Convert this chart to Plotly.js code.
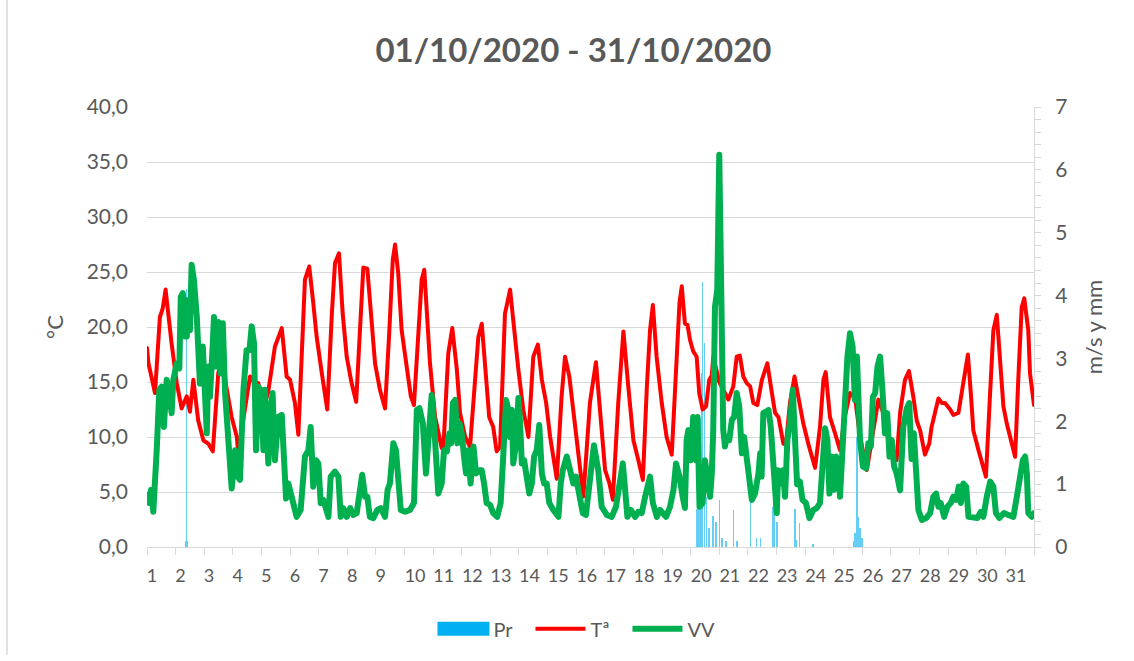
<!DOCTYPE html>
<html>
<head>
<meta charset="utf-8">
<script src="https://cdn.plot.ly/plotly-3.0.1.min.js"></script>
<style>
html,body{margin:0;padding:0;background:#fff;}
#chart{width:1134px;height:661px;}
.scatterlayer .js-line{stroke-linejoin:round;stroke-linecap:round;}
</style>
</head>
<body>
<div id="chart"></div>
<script>
// Day labels of the x axis
const days = [1,2,3,4,5,6,7,8,9,10,11,12,13,14,15,16,17,18,19,20,21,22,23,24,25,26,27,28,29,30,31];

// Temperature (°C): time in days since 01/10 00:00
const tempTime = [0,0.05,0.28,0.45,0.55,0.65,0.86,1.04,1.21,1.39,
1.50,1.62,1.79,1.97,2.14,2.30,2.49,2.61,2.79,2.96,
3.14,3.19,3.39,3.60,3.74,3.89,4.05,4.23,4.47,4.71,
4.88,5.00,5.17,5.29,5.52,5.67,5.81,5.93,6.11,6.30,
6.46,6.57,6.71,6.84,6.98,7.15,7.31,7.45,7.56,7.70,
7.85,7.97,8.14,8.32,8.47,8.59,8.67,8.78,8.90,9.05,
9.22,9.33,9.48,9.60,9.69,9.80,9.89,10.07,10.30,10.36,
10.53,10.67,10.83,10.94,11.12,11.29,11.46,11.58,11.70,11.81,
11.96,12.10,12.22,12.34,12.51,12.69,12.80,12.98,13.15,13.33,
13.50,13.66,13.80,13.95,14.09,14.32,14.49,14.61,14.76,14.90,
15.08,15.25,15.48,15.69,15.83,16.01,16.16,16.28,16.47,16.65,
16.82,17.00,17.17,17.33,17.47,17.58,17.68,17.81,17.99,18.16,
18.34,18.49,18.61,18.69,18.80,18.89,18.98,19.09,19.21,19.30,
19.42,19.54,19.65,19.74,19.79,20.00,20.21,20.32,20.49,20.61,
20.72,20.84,20.96,21.08,21.19,21.33,21.49,21.68,21.84,21.95,
22.07,22.24,22.33,22.47,22.63,22.76,22.94,23.11,23.35,23.52,
23.64,23.72,23.87,24.05,24.22,24.40,24.57,24.75,24.92,25.16,
25.34,25.56,25.76,25.97,26.20,26.32,26.49,26.63,26.78,26.90,
27.02,27.19,27.34,27.42,27.54,27.66,27.78,27.89,28.07,28.18,
28.36,28.48,28.53,28.69,28.80,28.88,29.06,29.23,29.32,29.46,
29.58,29.70,29.81,29.93,30.05,30.22,30.34,30.45,30.57,30.66,
30.80,30.86,31.00];
const tempValues = [18.1,16.7,14.0,20.9,21.7,23.4,18.5,14.9,12.6,13.7,
12.3,15.2,11.5,9.7,9.4,8.7,15.8,17.0,14.3,11.8,
10.0,8.5,12.0,15.5,15.0,14.9,12.5,14.0,18.2,19.9,
15.5,15.2,13.1,10.2,24.3,25.5,22.2,19.1,15.8,12.5,
21.2,25.8,26.7,21.2,17.3,14.9,13.2,20.3,25.4,25.3,
20.3,16.7,14.3,12.6,19.7,26.1,27.5,24.9,19.7,16.7,
13.7,12.9,19.7,24.3,25.2,21.2,16.7,11.8,9.0,9.1,
17.6,19.9,16.1,12.2,10.0,9.1,15.2,19.1,20.3,17.0,
11.8,10.9,8.7,9.1,21.2,23.4,20.3,16.1,12.5,10.0,
17.3,18.4,15.2,13.1,10.0,6.2,13.7,17.3,15.5,12.5,
8.8,4.6,13.1,16.8,12.5,7.0,5.8,4.3,13.1,19.6,
14.6,9.7,7.9,6.1,14.6,19.7,22.0,17.3,13.1,10.0,
8.4,16.1,22.2,23.7,20.3,20.2,18.8,17.8,17.3,14.0,
12.5,12.8,15.2,15.6,17.3,15.0,14.0,13.4,14.6,17.3,
17.4,15.5,14.9,14.6,13.1,12.9,15.2,16.7,14.0,12.2,
11.8,9.4,9.3,13.1,15.5,13.7,11.2,9.4,7.2,10.9,
15.2,15.9,11.8,10.3,8.8,12.0,14.0,13.5,10.0,7.0,
10.0,13.4,12.0,9.5,7.9,12.2,15.2,16.0,13.7,11.5,
10.6,8.4,9.4,10.9,12.2,13.5,13.1,13.1,12.5,12.0,
12.2,14.3,14.9,17.5,13.7,10.6,8.8,7.0,6.4,13.7,
19.7,21.1,17.6,12.8,11.2,9.4,8.2,15.2,21.8,22.6,
19.7,15.8,12.9];

// Wind speed VV (m/s)
const windTime = [0.00,0.08,0.14,0.22,0.34,0.43,0.51,0.59,0.69,0.78,
0.86,0.92,1.04,1.13,1.18,1.25,1.33,1.39,1.44,1.50,
1.56,1.64,1.74,1.85,1.95,2.03,2.09,2.14,2.20,2.30,
2.34,2.41,2.49,2.58,2.65,2.73,2.81,2.90,2.96,3.08,
3.16,3.25,3.37,3.48,3.58,3.66,3.74,3.81,3.89,3.97,
4.07,4.12,4.24,4.32,4.39,4.47,4.59,4.71,4.79,4.86,
4.94,5.08,5.23,5.37,5.52,5.64,5.72,5.81,5.91,5.99,
6.07,6.16,6.26,6.34,6.42,6.57,6.69,6.77,6.86,6.98,
7.10,7.21,7.33,7.44,7.52,7.62,7.70,7.79,7.91,8.05,
8.17,8.32,8.41,8.49,8.61,8.70,8.78,8.87,9.02,9.19,
9.33,9.43,9.52,9.64,9.75,9.85,9.95,10.03,10.13,10.18,
10.30,10.38,10.48,10.57,10.63,10.69,10.77,10.85,10.92,11.00,
11.08,11.15,11.23,11.31,11.41,11.50,11.61,11.70,11.78,11.87,
11.99,12.10,12.24,12.36,12.45,12.55,12.63,12.69,12.75,12.80,
12.90,12.98,13.04,13.10,13.18,13.27,13.36,13.45,13.53,13.62,
13.71,13.80,13.88,13.97,14.06,14.20,14.38,14.46,14.53,14.67,
14.79,14.90,14.99,15.11,15.23,15.34,15.48,15.62,15.77,15.89,
16.07,16.24,16.39,16.53,16.63,16.71,16.79,16.91,17.06,17.17,
17.29,17.41,17.49,17.58,17.68,17.82,17.93,18.02,18.14,18.28,
18.40,18.49,18.61,18.72,18.80,18.86,18.92,19.00,19.09,19.19,
19.24,19.31,19.42,19.50,19.58,19.68,19.74,19.79,19.85,19.93,
20.00,20.05,20.08,20.14,20.20,20.26,20.35,20.44,20.52,20.61,
20.70,20.79,20.87,20.96,21.05,21.14,21.25,21.37,21.43,21.48,
21.54,21.63,21.72,21.80,21.87,21.93,22.01,22.06,22.15,22.22,
22.30,22.38,22.47,22.57,22.65,22.72,22.82,22.91,23.03,23.15,
23.29,23.41,23.52,23.62,23.70,23.78,23.85,23.93,24.01,24.08,
24.16,24.22,24.32,24.40,24.48,24.57,24.66,24.74,24.81,24.86,
24.92,25.02,25.13,25.21,25.30,25.37,25.45,25.53,25.62,25.71,
25.79,25.87,25.95,26.03,26.11,26.20,26.32,26.43,26.55,26.64,
26.72,26.80,26.90,26.96,27.08,27.23,27.37,27.48,27.58,27.66,
27.74,27.86,27.97,28.09,28.18,28.28,28.37,28.44,28.53,28.63,
28.71,28.86,29.02,29.14,29.23,29.35,29.47,29.58,29.67,29.79,
29.95,30.10,30.28,30.40,30.51,30.61,30.69,30.75,30.80,30.92,
31.00];
const windValues = [0.83,0.70,0.91,0.56,1.54,2.50,2.55,1.91,2.66,2.45,
2.13,2.66,2.92,2.84,3.98,4.04,3.35,3.35,3.93,3.45,
4.49,4.25,3.66,2.60,3.19,2.60,1.81,2.87,2.39,3.24,
3.66,2.87,3.58,2.76,3.56,2.45,1.97,1.12,0.93,1.54,
1.12,1.07,2.50,3.13,3.13,3.51,3.24,1.54,2.55,2.50,
1.54,2.50,1.33,2.18,2.45,1.38,2.07,2.10,1.54,0.77,
1.01,0.70,0.48,0.59,1.44,1.54,1.91,0.96,1.38,1.33,
0.70,0.75,0.59,0.48,1.12,1.20,1.12,0.48,0.62,0.48,
0.62,0.51,0.54,0.85,1.15,0.80,0.80,0.48,0.46,0.59,
0.62,0.48,0.91,1.01,1.65,1.54,0.91,0.59,0.56,0.59,
0.70,2.18,2.21,1.97,1.17,1.86,2.42,1.97,1.22,0.85,
1.01,1.54,1.52,1.81,1.65,2.29,2.34,1.65,1.97,1.81,
1.44,1.17,1.54,1.01,1.60,1.17,1.22,1.22,1.01,0.70,
0.67,0.54,0.48,0.70,1.44,2.34,2.18,1.75,2.18,1.33,
1.65,2.37,1.97,1.33,1.38,1.01,0.85,1.01,1.44,1.54,
1.94,1.17,1.01,1.01,0.70,0.59,0.48,1.01,1.22,1.44,
1.17,1.01,1.12,0.75,0.54,0.51,1.01,1.62,1.22,0.64,
0.51,0.48,0.64,1.01,1.33,0.91,0.48,0.59,0.48,0.56,
0.54,0.80,0.96,1.12,0.70,0.48,0.59,0.54,0.48,0.64,
0.91,1.33,1.12,0.80,0.62,1.70,1.86,1.38,2.07,1.38,
2.07,0.64,0.70,1.38,1.12,0.80,1.17,1.86,3.82,4.09,
6.24,4.35,2.76,1.86,1.60,1.75,1.70,2.02,2.07,2.45,
2.23,1.49,1.75,1.38,1.17,0.75,0.85,1.17,1.49,1.12,
2.13,2.15,2.18,1.91,1.44,0.75,0.54,1.22,1.01,1.22,
0.80,1.70,1.97,2.50,1.80,1.00,1.04,0.75,0.70,0.46,
0.59,0.62,0.70,1.28,1.89,1.70,0.85,1.44,0.91,1.44,
1.38,0.80,1.91,2.34,3.03,3.40,3.19,2.34,3.03,2.07,
1.70,1.28,1.25,1.65,1.60,2.39,2.45,2.87,3.03,2.45,
1.81,2.13,1.44,1.70,1.28,1.17,0.90,1.90,2.20,2.29,
1.40,1.81,1.07,0.59,0.43,0.46,0.54,0.80,0.85,0.64,
0.70,0.48,0.64,0.70,0.80,0.75,0.96,0.70,1.01,0.96,
0.48,0.46,0.46,0.56,0.48,0.80,1.04,0.96,0.54,0.46,
0.54,0.51,0.48,0.80,1.12,1.38,1.44,1.17,0.54,0.48,
0.54];

// Precipitation Pr (mm)
const rainTime = [1.35,1.38,1.41,
19.22,19.28,19.33,19.37,19.42,19.48,19.56,19.64,19.78,19.89,20.01,20.10,20.24,20.49,20.62,
21.10,21.29,21.43,
21.87,21.91,22.02,
22.65,22.68,22.80,23.28,
24.68,24.74,24.81,24.86,24.92,24.99];
const rainValues = [0.1,4.1,0.1,
0.6,1.3,2.05,2.77,4.22,3.24,0.8,0.3,0.5,0.4,0.75,0.15,0.1,0.59,0.1,
0.75,0.15,0.15,
0.64,1.2,0.4,
0.6,0.11,0.38,0.05,
0.1,0.22,1.75,0.48,0.3,0.15];

const FONT = 'Lato, "Open Sans", "DejaVu Sans", sans-serif';
const TXT = '#595959';
const GRID = '#d9d9d9';

const dayBounds = days.map(d => d - 1).concat([31]);
const labelPos = days.map(d => (d - 1) + (d < 10 ? 0.17 : 0.37));

const traces = [
  {type:'bar', name:'Pr', x:rainTime, y:rainValues, xaxis:'x', yaxis:'y',
   width:0.045, marker:{color:'#62cdf5', opacity:0.99, line:{width:0}}, hoverinfo:'skip'},
  {type:'scatter', mode:'lines', name:'Tª', x:tempTime, y:tempValues, xaxis:'x', yaxis:'y2',
   line:{color:'#FF0000', width:4}},
  {type:'scatter', mode:'lines', name:'VV', x:windTime, y:windValues, xaxis:'x', yaxis:'y3',
   line:{color:'#00B050', width:6}}
];

const layout = {
  width:1134, height:661,
  margin:{l:147, r:100, t:107, b:114, pad:0},
  paper_bgcolor:'#ffffff', plot_bgcolor:'#ffffff',
  separators:',.',
  font:{family:FONT, color:TXT},
  title:{text:'01/10/2020 - 31/10/2020', font:{family:FONT, size:33, color:TXT, weight:700},
         x:0.5057, xanchor:'center', y:0.923, yanchor:'middle'},
  showlegend:true,
  legend:{orientation:'h', x:0.487, xanchor:'center', y:-0.186, yanchor:'middle',
          font:{family:FONT, size:20, color:TXT}, itemwidth:50, entrywidth:32, entrywidthmode:'pixels',
          traceorder:'normal'},
  bargap:0,
  shapes:[{type:'line', xref:'paper', yref:'paper', x0:-0.1578, x1:-0.1578, y0:-0.2455, y1:1.2432,
           line:{color:GRID, width:1.5}, layer:'below'}],
  xaxis:{range:[0,31], tickmode:'array', tickvals:labelPos, ticktext:days.map(String),
         ticks:'', showgrid:false, zeroline:false, showline:true, linecolor:GRID, linewidth:1,
         tickfont:{family:FONT, size:18, color:TXT}, ticklabelstandoff:12,
         minor:{tickmode:'array', tickvals:dayBounds, ticks:'outside', ticklen:7, tickcolor:GRID, tickwidth:1, showgrid:false}},
  yaxis:{range:[0,7], side:'right', tickmode:'linear', tick0:0, dtick:1, showgrid:false, zeroline:false,
         showline:true, linecolor:GRID, linewidth:1, ticks:'outside', ticklen:6, tickcolor:GRID,
         minor:{tickmode:'linear', dtick:0.2, ticks:'outside', ticklen:6, tickcolor:GRID},
         tickfont:{family:FONT, size:21, color:TXT}, ticklabelstandoff:10,
         title:{text:'m/s y mm', font:{family:FONT, size:22, color:TXT}, standoff:20}},
  yaxis2:{range:[0,40], overlaying:'y', side:'left', tickmode:'linear', tick0:0, dtick:5, tickformat:'.1f',
          showgrid:true, gridcolor:GRID, gridwidth:1, zeroline:false, showline:false, ticks:'',
          tickfont:{family:FONT, size:21, color:TXT}, ticklabelstandoff:18,
          title:{text:'°C', font:{family:FONT, size:22, color:TXT}, standoff:16}},
  yaxis3:{range:[0,7], overlaying:'y', side:'right', visible:false, showgrid:false, zeroline:false}
};

Plotly.newPlot('chart', traces, layout, {displayModeBar:false, staticPlot:true}).then(function(){
  // legend key of the precipitation series drawn as a wide block, as in the original
  var items = document.querySelectorAll('#chart .legend .traces');
  if (items.length) {
    var p = items[0].querySelector('.legendpoints path');
    if (p) {
      p.setAttribute('d', 'M-26,7H26V-7H-26Z');
      p.style.fill = '#00B0F0';
      p.style.stroke = 'none';
    }
  }
});
</script>
</body>
</html>
